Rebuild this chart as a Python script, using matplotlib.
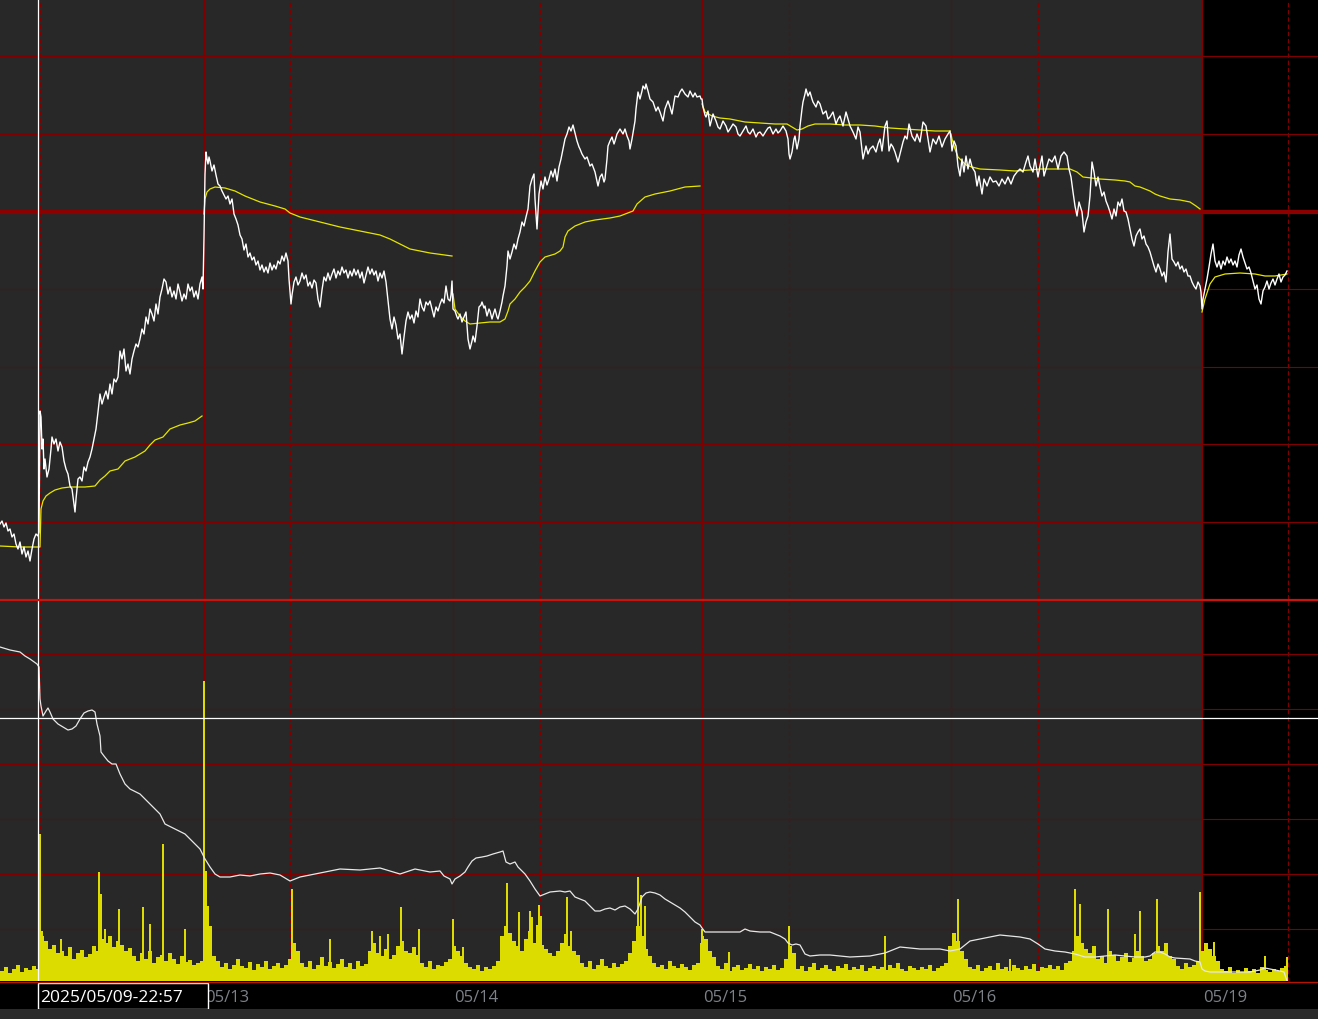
import numpy as np
import matplotlib.pyplot as plt
from matplotlib.lines import Line2D
from matplotlib.patches import Rectangle

plt.rcParams['font.family'] = ['Open Sans', 'DejaVu Sans']

# x = intraday bar index (one bar per pixel column, as the trading app draws it)
session_starts = [204, 453, 702, 951, 1202]
session_labels = ["05/13", "05/14", "05/15", "05/16", "05/19"]
mid_marks = [40, 290, 540, 789, 1038, 1288]
today_start = 1202
cursor_bar = 38
cursor_text = "2025/05/09-22:57"
cursor_level = 263

price_grid = [943, 865, 710, 632, 555, 477]
price_ref = 787
vol_grid = [327, 272, 217, 162, 107, 52]

# price (bar, value) per session
price_0509 = [(0, 475), (2, 478), (4, 472), (6, 476), (8, 468), (10, 470), (12, 462), (14, 465), (16, 455),
              (18, 450), (20, 457), (22, 445), (24, 452), (26, 442), (28, 448), (30, 438), (32, 450),
              (34, 460), (36, 465), (38, 463), (39, 467)]
price_0512 = [(40, 588), (41, 582), (42, 550), (43, 560), (44, 530), (45, 540), (47, 522), (49, 530),
              (51, 550), (52, 562), (54, 555), (56, 560), (58, 548), (60, 557), (62, 552), (64, 538),
              (66, 530), (68, 525), (70, 513), (72, 510), (74, 495), (75, 487), (76, 500), (78, 520),
              (80, 522), (82, 518), (84, 532), (86, 528), (88, 537), (90, 542), (92, 550), (94, 560),
              (96, 570), (98, 587), (100, 605), (102, 595), (104, 602), (106, 608), (108, 600), (110, 615),
              (112, 605), (114, 620), (116, 617), (118, 622), (120, 648), (122, 640), (124, 650), (126, 628),
              (128, 635), (130, 625), (132, 640), (134, 648), (136, 655), (138, 652), (140, 660), (142, 670),
              (144, 665), (146, 682), (148, 675), (150, 690), (152, 685), (154, 678), (156, 695), (158, 685),
              (160, 702), (162, 710), (164, 720), (166, 717), (168, 705), (170, 712), (172, 702), (174, 708),
              (176, 700), (178, 715), (180, 707), (182, 698), (184, 705), (186, 700), (188, 715), (190, 708),
              (192, 712), (194, 702), (196, 708), (198, 700), (200, 715), (202, 722), (203, 710)]
price_0513 = [(204, 762), (205, 825), (206, 847), (207, 840), (208, 835), (209, 842), (210, 838), (212, 828),
              (214, 834), (216, 824), (218, 815), (220, 813), (222, 808), (224, 804), (226, 800), (228, 803),
              (230, 795), (232, 800), (234, 785), (236, 780), (238, 774), (240, 764), (242, 760), (244, 749),
              (246, 755), (248, 742), (250, 746), (252, 739), (254, 742), (256, 734), (258, 738), (260, 729),
              (262, 734), (264, 727), (266, 732), (268, 726), (270, 736), (272, 729), (274, 734), (276, 730),
              (278, 738), (280, 735), (282, 743), (284, 738), (286, 746), (288, 738), (289, 720), (290, 708),
              (291, 695), (292, 704), (294, 717), (296, 722), (298, 714), (300, 718), (302, 726), (304, 720),
              (306, 724), (308, 713), (310, 717), (312, 711), (314, 719), (316, 716), (318, 700), (320, 692),
              (322, 709), (324, 722), (326, 718), (328, 726), (330, 719), (332, 725), (334, 730), (336, 721),
              (338, 728), (340, 724), (342, 732), (344, 726), (346, 729), (348, 721), (350, 728), (352, 723),
              (354, 730), (356, 724), (358, 729), (360, 721), (362, 727), (364, 716), (366, 724), (368, 732),
              (370, 725), (372, 730), (374, 724), (376, 728), (378, 718), (380, 726), (382, 721), (384, 728),
              (386, 717), (388, 698), (390, 680), (392, 670), (394, 682), (396, 674), (398, 660), (400, 665),
              (402, 645), (404, 662), (406, 678), (408, 687), (410, 680), (412, 684), (414, 676), (416, 688),
              (418, 682), (420, 700), (422, 692), (424, 688), (426, 697), (428, 694), (430, 698), (432, 690),
              (434, 682), (436, 692), (438, 688), (440, 695), (442, 700), (444, 696), (446, 713), (448, 700),
              (450, 698), (451, 704), (452, 718)]
price_0514 = [(453, 690), (455, 688), (457, 682), (458, 680), (460, 685), (462, 677), (464, 682), (466, 687),
              (468, 660), (470, 650), (472, 658), (473, 663), (475, 657), (477, 673), (479, 692), (481, 694),
              (482, 697), (484, 691), (485, 693), (487, 683), (489, 690), (490, 688), (492, 680), (494, 687),
              (495, 690), (497, 682), (498, 680), (500, 688), (502, 697), (503, 703), (505, 713), (507, 733),
              (508, 748), (510, 740), (512, 747), (514, 755), (516, 750), (518, 760), (520, 767), (522, 777),
              (524, 773), (526, 782), (528, 790), (530, 813), (532, 820), (534, 825), (535, 800), (537, 770),
              (539, 805), (541, 818), (543, 810), (545, 822), (547, 814), (549, 820), (551, 828), (553, 822),
              (555, 830), (557, 818), (559, 832), (561, 840), (563, 850), (565, 860), (567, 865), (569, 872),
              (571, 868), (573, 874), (575, 866), (577, 858), (579, 852), (580, 850), (582, 845), (585, 840),
              (587, 842), (590, 833), (592, 835), (595, 827), (598, 813), (600, 822), (602, 825), (604, 817),
              (605, 820), (607, 840), (608, 853), (610, 858), (612, 862), (614, 855), (615, 858), (617, 865),
              (620, 870), (623, 865), (625, 870), (627, 863), (629, 858), (630, 850), (632, 860), (635, 878),
              (636, 890), (638, 907), (640, 900), (642, 908), (643, 913), (645, 910), (646, 915), (648, 908),
              (650, 900), (653, 897), (656, 888), (658, 892), (660, 887), (663, 878), (665, 890), (668, 898),
              (670, 892), (672, 885), (675, 903), (678, 902), (680, 907), (682, 910), (685, 905), (688, 902),
              (690, 908), (693, 902), (695, 906), (697, 902), (700, 903), (701, 900)]
price_0515 = [(702, 900), (703, 892), (705, 884), (706, 882), (708, 888), (710, 873), (713, 885), (716, 878),
              (718, 872), (720, 870), (723, 878), (726, 873), (728, 867), (730, 870), (733, 875), (736, 872),
              (738, 865), (740, 863), (743, 868), (746, 873), (748, 867), (750, 865), (753, 870), (756, 862),
              (758, 866), (760, 867), (763, 863), (766, 868), (768, 871), (770, 872), (773, 865), (776, 870),
              (778, 866), (780, 868), (783, 873), (786, 868), (788, 860), (789, 845), (790, 840), (792, 847),
              (794, 860), (795, 863), (797, 850), (799, 860), (800, 873), (802, 890), (803, 897), (805, 905),
              (806, 910), (808, 903), (810, 907), (812, 900), (813, 897), (816, 892), (818, 898), (820, 895),
              (823, 885), (826, 888), (828, 880), (830, 882), (833, 887), (836, 875), (838, 880), (840, 883),
              (843, 873), (846, 887), (848, 880), (850, 873), (853, 867), (856, 860), (858, 872), (860, 867),
              (863, 840), (866, 853), (868, 845), (870, 850), (873, 853), (876, 847), (878, 855), (880, 860),
              (882, 848), (885, 873), (887, 878), (889, 848), (891, 855), (893, 852), (895, 847), (898, 837),
              (900, 845), (903, 857), (905, 863), (907, 860), (909, 875), (912, 863), (915, 858), (917, 865),
              (920, 857), (923, 877), (926, 873), (928, 860), (930, 847), (933, 860), (936, 855), (939, 863),
              (942, 852), (945, 860), (948, 865), (950, 868)]
price_0516 = [(951, 860), (952, 848), (954, 858), (956, 853), (958, 833), (960, 823), (962, 840), (964, 827),
              (966, 843), (968, 830), (970, 840), (972, 832), (975, 827), (977, 813), (979, 823), (982, 805),
              (984, 820), (987, 813), (990, 822), (993, 817), (996, 818), (999, 813), (1002, 820), (1005, 815),
              (1008, 822), (1011, 815), (1014, 823), (1017, 827), (1020, 830), (1023, 827), (1026, 837),
              (1028, 843), (1030, 833), (1033, 827), (1035, 840), (1038, 822), (1040, 833), (1042, 843),
              (1044, 823), (1046, 830), (1049, 840), (1052, 837), (1055, 843), (1058, 830), (1061, 843),
              (1064, 847), (1067, 843), (1069, 830), (1071, 822), (1073, 807), (1075, 793), (1077, 783),
              (1079, 797), (1082, 787), (1084, 767), (1086, 777), (1088, 783), (1090, 803), (1092, 837),
              (1094, 827), (1096, 813), (1098, 822), (1100, 812), (1102, 803), (1104, 807), (1106, 798),
              (1108, 793), (1110, 787), (1112, 780), (1114, 790), (1116, 783), (1118, 797), (1120, 793),
              (1122, 800), (1124, 788), (1126, 787), (1128, 780), (1130, 770), (1132, 760), (1134, 753),
              (1136, 763), (1138, 767), (1140, 770), (1142, 760), (1144, 763), (1146, 755), (1148, 752),
              (1150, 747), (1152, 740), (1154, 733), (1156, 727), (1158, 735), (1160, 730), (1162, 723),
              (1164, 727), (1166, 717), (1168, 747), (1170, 765), (1172, 740), (1174, 737), (1176, 733),
              (1178, 737), (1180, 730), (1182, 733), (1184, 727), (1186, 730), (1188, 723), (1190, 723),
              (1192, 717), (1194, 713), (1196, 710), (1198, 717), (1200, 713), (1201, 707)]
price_0519 = [(1202, 690), (1203, 700), (1205, 710), (1207, 720), (1209, 732), (1211, 745), (1213, 755),
              (1215, 738), (1217, 732), (1219, 738), (1221, 730), (1223, 738), (1225, 734), (1227, 742),
              (1229, 736), (1231, 740), (1233, 734), (1235, 738), (1237, 732), (1239, 744), (1241, 750),
              (1243, 742), (1245, 736), (1247, 730), (1249, 732), (1251, 726), (1253, 718), (1255, 710),
              (1257, 714), (1259, 700), (1261, 695), (1263, 708), (1265, 712), (1267, 718), (1269, 710),
              (1271, 716), (1273, 720), (1275, 714), (1277, 720), (1279, 725), (1281, 717), (1283, 722),
              (1285, 724), (1287, 728)]

# VWAP per session (0509 and 0512 joined in the app)
vwap_0512 = [(0, 453), (20, 452), (38, 452), (40, 452), (41, 490), (43, 498), (46, 503), (50, 506), (55, 509),
             (62, 511), (70, 512), (85, 512), (95, 513), (100, 519), (105, 523), (110, 528), (118, 530),
             (125, 538), (130, 540), (135, 542), (145, 548), (150, 554), (155, 559), (163, 562), (170, 570),
             (175, 572), (180, 574), (188, 576), (195, 578), (202, 583)]
vwap_0513 = [(204, 785), (205, 800), (207, 807), (210, 810), (215, 812), (225, 811), (235, 808), (245, 803),
             (260, 797), (275, 793), (285, 790), (290, 786), (300, 782), (320, 777), (340, 772), (360, 768),
             (380, 764), (390, 760), (400, 755), (410, 750), (430, 746), (452, 743)]
vwap_0514 = [(453, 705), (455, 690), (460, 683), (465, 678), (470, 675), (480, 676), (490, 677), (500, 677),
             (505, 680), (508, 688), (510, 695), (515, 700), (520, 707), (525, 712), (530, 718), (535, 728),
             (540, 737), (545, 742), (555, 745), (560, 748), (563, 752), (565, 762), (568, 768), (575, 773),
             (585, 777), (595, 779), (610, 781), (620, 783), (633, 788), (637, 795), (645, 802), (655, 805),
             (670, 808), (685, 812), (700, 813)]
vwap_0515 = [(702, 895), (705, 887), (712, 883), (720, 881), (730, 880), (745, 877), (760, 876), (775, 875),
             (787, 875), (792, 872), (797, 869), (802, 870), (808, 873), (815, 875), (830, 875), (845, 874),
             (860, 874), (875, 873), (890, 871), (905, 870), (920, 869), (935, 868), (950, 868)]
vwap_0516 = [(951, 865), (952, 860), (955, 850), (958, 842), (962, 838), (966, 834), (972, 832), (980, 830),
             (1000, 829), (1015, 828), (1030, 829), (1040, 830), (1060, 830), (1070, 830), (1077, 827),
             (1083, 822), (1100, 820), (1115, 819), (1125, 818), (1130, 817), (1135, 813), (1140, 812),
             (1150, 808), (1155, 805), (1160, 803), (1170, 800), (1180, 799), (1190, 797), (1196, 793),
             (1200, 790)]
vwap_0519 = [(1202, 687), (1205, 700), (1210, 715), (1215, 722), (1225, 725), (1240, 726), (1255, 725),
             (1265, 723), (1275, 723), (1287, 725)]

# lower panel indicator line
indicator = [(0, 334), (10, 331), (20, 329), (25, 325), (30, 322), (37, 317), (39, 314), (40, 282), (41, 275),
             (43, 265), (46, 270), (48, 273), (50, 269), (53, 262), (58, 257), (63, 254), (68, 251), (72, 252),
             (76, 255), (80, 262), (84, 268), (88, 270), (92, 271), (95, 269), (97, 257), (100, 245),
             (101, 229), (104, 225), (108, 220), (112, 217), (116, 217), (120, 207), (125, 197), (130, 192),
             (140, 187), (150, 177), (160, 167), (165, 157), (175, 152), (185, 147), (195, 137), (200, 132),
             (205, 122), (210, 114), (215, 107), (220, 104), (230, 104), (240, 106), (250, 105), (260, 107),
             (270, 108), (280, 106), (290, 100), (300, 104), (320, 108), (340, 112), (360, 111), (380, 113),
             (400, 107), (415, 112), (430, 109), (440, 110), (444, 105), (450, 102), (452, 97), (455, 102),
             (460, 105), (465, 109), (468, 114), (472, 120), (476, 123), (482, 124), (487, 125), (493, 127),
             (500, 129), (503, 130), (506, 119), (510, 117), (515, 119), (518, 114), (522, 110), (525, 107),
             (530, 100), (535, 92), (540, 85), (545, 87), (550, 89), (560, 90), (565, 89), (570, 90),
             (575, 84), (580, 82), (585, 80), (590, 75), (595, 70), (600, 70), (605, 72), (610, 73),
             (615, 71), (620, 74), (625, 75), (630, 72), (635, 67), (638, 72), (642, 84), (646, 88),
             (650, 89), (655, 88), (660, 86), (665, 82), (670, 79), (675, 76), (680, 73), (685, 69),
             (690, 64), (695, 59), (700, 56), (702, 53), (705, 49), (720, 49), (730, 49), (740, 49),
             (745, 52), (750, 50), (760, 49), (770, 49), (775, 47), (780, 45), (785, 42), (788, 38),
             (792, 36), (796, 37), (800, 36), (805, 27), (810, 25), (820, 26), (830, 26), (850, 24),
             (870, 25), (885, 28), (895, 32), (900, 34), (920, 32), (940, 32), (950, 30), (960, 32),
             (970, 40), (980, 42), (990, 44), (1000, 46), (1010, 45), (1020, 44), (1030, 42), (1038, 37),
             (1045, 32), (1055, 30), (1065, 29), (1075, 27), (1085, 24), (1095, 24), (1105, 25), (1115, 26),
             (1125, 25), (1135, 24), (1145, 24), (1150, 25), (1155, 29), (1160, 29), (1165, 27), (1170, 24),
             (1175, 23), (1190, 22), (1195, 20), (1200, 19), (1202, 12), (1205, 10), (1210, 9), (1220, 9),
             (1240, 9), (1250, 9), (1260, 11), (1265, 13), (1270, 12), (1280, 10), (1284, 9), (1287, 0)]

# volume, 4-bar buckets from bar 0
vol_step = 4
volume = [10, 14, 8, 12, 16, 9, 13, 11, 15, 12,
          45, 40, 32, 36, 28,
          30, 25, 34, 22, 28, 31, 24, 27, 35, 30,
          42, 38, 45, 34, 40, 36, 30, 33,
          25, 20, 28, 22, 30, 18, 24, 26, 20, 28, 22, 17, 25, 19, 21, 16, 18,
          20, 70, 55,
          25, 20, 14, 18, 12, 16, 22, 15, 13, 19, 11, 17, 14, 20, 12, 15, 18, 13, 16,
          22, 38, 30,
          18, 14, 20, 12, 16, 24, 15, 19, 13, 17, 22, 14, 18, 12, 20, 15, 17,
          30, 38, 28, 25, 32, 22, 26, 35, 40, 30, 28, 34, 26,
          18, 14, 20, 12, 16, 15, 19, 22,
          35, 30, 25, 18, 14, 12, 16, 10, 14, 12, 15, 20,
          45, 55, 48, 40, 35, 30, 42, 50, 38, 45, 36, 32, 28, 25, 30,
          38, 42, 35, 30, 26,
          18, 14, 20, 12, 16, 22, 15, 13, 18, 14, 17, 20,
          28, 40, 55, 45, 32, 25,
          18, 14, 16, 12, 20, 15, 13, 17, 14, 11, 16, 18,
          38, 42, 30, 24,
          15, 12, 18, 10, 14, 16, 11, 13, 17, 12, 15, 10, 14, 12, 16, 11, 13,
          22, 35, 28,
          12, 15, 10, 14, 18, 11, 13, 16, 12, 10, 15, 13, 17, 11, 14, 12, 16, 10, 13,
          15, 12, 14, 11, 16, 13, 18, 12, 10, 15, 13, 11, 14, 12, 16, 10, 13, 15, 18,
          35, 48, 40, 30, 22,
          14, 12, 16, 10, 13, 15, 11, 18, 12, 14, 10, 16, 13, 11, 15, 12, 17, 10, 14, 13, 16, 12, 15, 11, 18, 20,
          30, 45, 38, 32, 28, 35,
          22, 25, 18, 30, 26, 20, 24, 28, 19, 23, 30, 25, 20, 22,
          28, 35, 30, 38, 25, 22,
          15, 12, 18, 14, 16, 20,
          30, 38, 32, 25, 20,
          12, 10, 14, 8, 11, 9, 13, 10, 12, 8, 14, 11, 9, 12, 10, 13, 15]
# single-bar volume spikes
spikes = [(40, 147), (42, 50), (61, 42), (99, 109), (101, 87), (105, 52), (119, 72), (143, 74), (150, 57),
          (163, 137), (185, 52), (204, 300), (206, 110), (208, 75), (292, 92), (330, 42), (372, 50),
          (380, 45), (388, 47), (401, 74), (419, 52), (453, 62), (463, 34), (505, 50), (507, 98), (519, 69),
          (530, 70), (532, 64), (537, 56), (539, 76), (541, 65), (565, 47), (567, 84), (571, 50), (638, 104),
          (641, 86), (645, 75), (702, 52), (703, 45), (729, 29), (789, 55), (885, 45), (958, 82), (1010, 22),
          (1075, 92), (1080, 77), (1108, 72), (1135, 47), (1140, 70), (1157, 82), (1200, 89), (1214, 39),
          (1265, 25), (1287, 24)]

W, H = 1318, 1020
BG = '#282828'
GRID = '#800000'
fig = plt.figure(figsize=(W / 100, H / 100), dpi=100, facecolor='black')
ax_p = fig.add_axes([0, 1 - 600 / H, 1, 600 / H])
ax_v = fig.add_axes([0, 1 - 982 / H, 1, 382 / H])
ax_x = fig.add_axes([0, 10 / H, 1, 27 / H])
for ax in (ax_p, ax_v, ax_x):
    ax.set_facecolor('black')
    ax.set_xlim(0, W)
    ax.set_xticks([])
    ax.set_yticks([])
    for s in ax.spines.values():
        s.set_visible(False)
ax_p.set_ylim(400, 1000)
ax_v.set_ylim(0, 382)
ax_x.set_ylim(0, 1)

for ax in (ax_p, ax_v):
    ax.axvspan(0, today_start, color=BG, lw=0, zorder=0)
    for b in session_starts:
        ax.axvline(b, color=GRID, lw=0.8, zorder=1)
    for m in mid_marks:
        ax.axvline(m, color=GRID, lw=0.8, ls=(0, (4, 2.5)), zorder=1)
for lv in price_grid:
    ax_p.axhline(lv, color=GRID, lw=0.8, zorder=1)
ax_p.axhline(price_ref, color='#8c0000', lw=3, zorder=2)
for lv in vol_grid:
    ax_v.axhline(lv, color=GRID, lw=0.8, zorder=1)

# price + vwap
segs = [price_0509, price_0512, price_0513, price_0514, price_0515, price_0516, price_0519]
pt, pv = zip(*[p for seg in segs for p in seg])
ax_p.plot(pt, pv, color='white', lw=1.0, zorder=5)
for seg in (vwap_0512, vwap_0513, vwap_0514, vwap_0515, vwap_0516, vwap_0519):
    t, v = zip(*seg)
    ax_p.plot(t, v, color='#e6e600', lw=0.9, zorder=4)

# volume
vt = np.arange(len(volume)) * vol_step
ax_v.bar(vt, volume, width=vol_step - 0.25, align='edge', color='#dcdc00', lw=0, zorder=3)
st, sv = zip(*spikes)
ax_v.bar(st, sv, width=1.3, color='#dcdc00', lw=0, zorder=3)
it, iv = zip(*indicator)
ax_v.plot(it, iv, color='#e8e8e8', lw=0.9, zorder=5)

# crosshair cursor
ax_p.axvline(cursor_bar, color='white', lw=0.9, zorder=6)
ax_v.axvline(cursor_bar, color='white', lw=0.9, zorder=6)
ax_v.axhline(cursor_level, color='white', lw=0.9, zorder=6)

# panel borders
fig.add_artist(Line2D([0, 1], [1 - 601 / H] * 2, color='#c8140c', lw=1.6))
fig.add_artist(Line2D([0, 1], [1 - 982.5 / H] * 2, color='#b41400', lw=1.0))
fig.add_artist(Rectangle((0, 0), 1, 10 / H, transform=fig.transFigure, color='#2b2b2b', lw=0))

# date axis
for b, lab in zip(session_starts, session_labels):
    ax_x.text(b + 23, 0.45, lab, ha='center', va='center', color='#7c8288', fontsize=12)
ax_x.add_patch(Rectangle((cursor_bar, 0.0), 170, 0.96, facecolor='black', edgecolor='white', lw=1, zorder=5))
ax_x.text(cursor_bar + 2, 0.45, cursor_text, ha='left', va='center', color='white', fontsize=12.5, zorder=6)

fig.savefig('out.png', dpi=100, facecolor='black')
